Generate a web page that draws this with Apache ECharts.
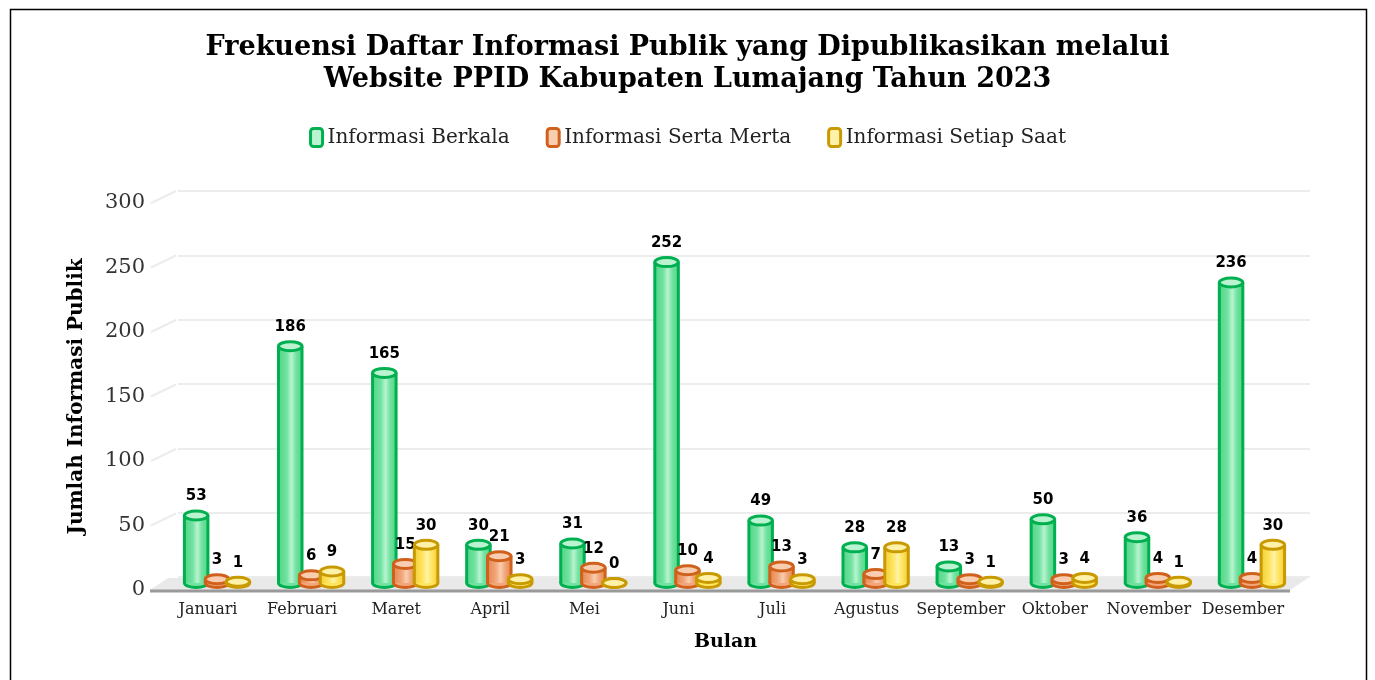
<!DOCTYPE html>
<html>
<head>
<meta charset="utf-8">
<title>Frekuensi Daftar Informasi Publik 2023</title>
<script src="https://cdn.jsdelivr.net/npm/echarts@6/dist/echarts.min.js"></script>
<style>
  html, body { margin: 0; padding: 0; background: #fff; }
  #main { width: 1375px; height: 680px; }
</style>
</head>
<body>
<div id="main"></div>
<script>
'use strict';

// data
var months = ['Januari', 'Februari', 'Maret', 'April', 'Mei', 'Juni', 'Juli', 'Agustus', 'September', 'Oktober', 'November', 'Desember'];
var berkala = [53, 186, 165, 30, 31, 252, 49, 28, 13, 50, 36, 236];
var sertaMerta = [3, 6, 15, 21, 12, 10, 13, 7, 3, 3, 4, 4];
var setiapSaat = [1, 9, 30, 3, 0, 4, 3, 28, 1, 4, 1, 30];
var yTicks = [0, 50, 100, 150, 200, 250, 300];

var serif = '"DejaVu Serif", serif';

// colours per series: body, side shade, top face, border
var looks = [
    { name: 'Informasi Berkala', body: '#6fe39f', shade: '#55d488', topFace: '#b9f3d0', border: '#00b050' },
    { name: 'Informasi Serta Merta', body: '#f2a679', shade: '#e4884f', topFace: '#f8cdb0', border: '#d0611c' },
    { name: 'Informasi Setiap Saat', body: '#ffe55e', shade: '#f3cd3a', topFace: '#fff2a8', border: '#c99a00' }
];

// one cylinder per data item, slot k inside the category band
function cylinder(k) {
    var look = looks[k];
    return function (params, api) {
        var idx = api.value(0), v = api.value(1);
        var band = api.size([1, 0])[0];
        var base = api.coord([idx, 0]);
        var top = api.coord([idx, v]);
        var cx = base[0] + (k - 1) * band * 0.222;
        var w = band * 0.25, rx = w / 2, ry = 4.5;
        var fill = new echarts.graphic.LinearGradient(0, 0, 1, 0, [
            { offset: 0, color: look.shade },
            { offset: 0.35, color: look.body },
            { offset: 0.55, color: look.topFace },
            { offset: 0.75, color: look.body },
            { offset: 1, color: look.shade }
        ]);
        return {
            type: 'group',
            children: [
                { type: 'ellipse', shape: { cx: cx, cy: base[1], rx: rx, ry: ry },
                  style: { fill: look.body, stroke: look.border, lineWidth: 3 } },
                { type: 'rect', shape: { x: cx - rx, y: top[1], width: w, height: base[1] - top[1] },
                  style: { fill: fill } },
                { type: 'line', shape: { x1: cx - rx, y1: top[1], x2: cx - rx, y2: base[1] },
                  style: { stroke: look.border, lineWidth: 3 } },
                { type: 'line', shape: { x1: cx + rx, y1: top[1], x2: cx + rx, y2: base[1] },
                  style: { stroke: look.border, lineWidth: 3 } },
                { type: 'ellipse', shape: { cx: cx, cy: top[1], rx: rx, ry: ry },
                  style: { fill: look.topFace, stroke: look.border, lineWidth: 3 } },
                { type: 'text', style: { text: String(v), x: cx, y: top[1] - ry - 7,
                  align: 'center', verticalAlign: 'bottom',
                  font: 'bold 15px "DejaVu Sans", sans-serif', fill: '#000' } }
            ]
        };
    };
}

// floor, front axis line and left wall links
function floor(params, api) {
    var cs = params.coordSys;
    var x0 = cs.x - 11, x1 = cs.x + cs.width, y0 = cs.y + cs.height;
    var dx = 18, dy = -12;
    var kids = [
        { type: 'polygon', shape: { points: [[x0, y0], [x1, y0], [x1 + dx, y0 + dy], [x0 + dx, y0 + dy]] },
          style: { fill: '#e9e9e9' } },
        { type: 'line', shape: { x1: x0, y1: y0 + 1, x2: x1, y2: y0 + 1 },
          style: { stroke: '#9a9a9a', lineWidth: 3 } }
    ];
    yTicks.forEach(function (t) {
        if (t === 0) return;
        var y = api.coord([0, t])[1];
        kids.push({ type: 'line', shape: { x1: x0 + 1, y1: y, x2: x0 + dx + 8, y2: y + dy },
            style: { stroke: '#ececec', lineWidth: 2 } });
    });
    return { type: 'group', silent: true, children: kids };
}

var chart = echarts.init(document.getElementById('main'));

var option = {
    backgroundColor: '#fff',
    animation: false,
    title: {
        text: 'Frekuensi Daftar Informasi Publik yang Dipublikasikan melalui\nWebsite PPID Kabupaten Lumajang Tahun 2023',
        left: 'center',
        top: 27,
        textStyle: { fontFamily: serif, fontWeight: 'bold', fontSize: 27, lineHeight: 32, color: '#000' }
    },
    legend: {
        top: 122,
        left: 'center',
        itemWidth: 12,
        itemHeight: 18,
        itemGap: 36,
        textStyle: { fontFamily: serif, fontSize: 20, color: '#222' },
        data: looks.map(function (l) {
            return { name: l.name, icon: 'roundRect',
                itemStyle: { color: l.topFace, borderColor: l.border, borderWidth: 3 } };
        })
    },
    graphic: [{
        type: 'rect', silent: true, z: -1,
        shape: { x: 10.5, y: 9.5, width: 1356, height: 720 },
        style: { fill: 'none', stroke: '#000', lineWidth: 1.5 }
    }],
    grid: [
        { left: 161, right: 85, top: 203, bottom: 90 },   // front: labels
        { left: 178, right: 65, top: 191, bottom: 103 },  // back wall: gridlines
        { left: 170, right: 76, top: 201, bottom: 97 }    // bars
    ],
    xAxis: [
        {
            gridIndex: 0, type: 'category', data: months,
            axisLine: { show: false }, axisTick: { show: false },
            axisLabel: { fontFamily: serif, fontSize: 16, color: '#222', margin: 12, interval: 0 },
            name: 'Bulan', nameLocation: 'middle', nameGap: 43,
            nameTextStyle: { fontFamily: serif, fontWeight: 'bold', fontSize: 19, color: '#000' }
        },
        { gridIndex: 1, type: 'category', data: months, show: false },
        { gridIndex: 2, type: 'category', data: months, show: false }
    ],
    yAxis: [
        {
            gridIndex: 0, type: 'value', min: 0, max: 300, interval: 50,
            splitLine: { show: false }, axisLine: { show: false }, axisTick: { show: false },
            axisLabel: { fontFamily: serif, fontSize: 21, color: '#333', margin: 16 },
            name: 'Jumlah Informasi Publik', nameLocation: 'middle', nameGap: 74,
            nameTextStyle: { fontFamily: serif, fontWeight: 'bold', fontSize: 20, color: '#000' }
        },
        {
            gridIndex: 1, type: 'value', min: 0, max: 300, interval: 50,
            axisLine: { show: false }, axisTick: { show: false }, axisLabel: { show: false },
            splitLine: { lineStyle: { color: '#ececec', width: 2 } }
        },
        { gridIndex: 2, type: 'value', min: 0, max: 300, show: false }
    ],
    series: [
        {
            type: 'custom', name: 'floor', xAxisIndex: 0, yAxisIndex: 0, z: 1,
            renderItem: floor, data: [[0, 0]], silent: true
        },
        {
            type: 'custom', name: looks[0].name, xAxisIndex: 2, yAxisIndex: 2, z: 3,
            itemStyle: { color: looks[0].body },
            renderItem: cylinder(0),
            data: berkala.map(function (v, i) { return [i, v]; })
        },
        {
            type: 'custom', name: looks[1].name, xAxisIndex: 2, yAxisIndex: 2, z: 4,
            itemStyle: { color: looks[1].body },
            renderItem: cylinder(1),
            data: sertaMerta.map(function (v, i) { return [i, v]; })
        },
        {
            type: 'custom', name: looks[2].name, xAxisIndex: 2, yAxisIndex: 2, z: 5,
            itemStyle: { color: looks[2].body },
            renderItem: cylinder(2),
            data: setiapSaat.map(function (v, i) { return [i, v]; })
        }
    ]
};

chart.setOption(option);
</script>
</body>
</html>
